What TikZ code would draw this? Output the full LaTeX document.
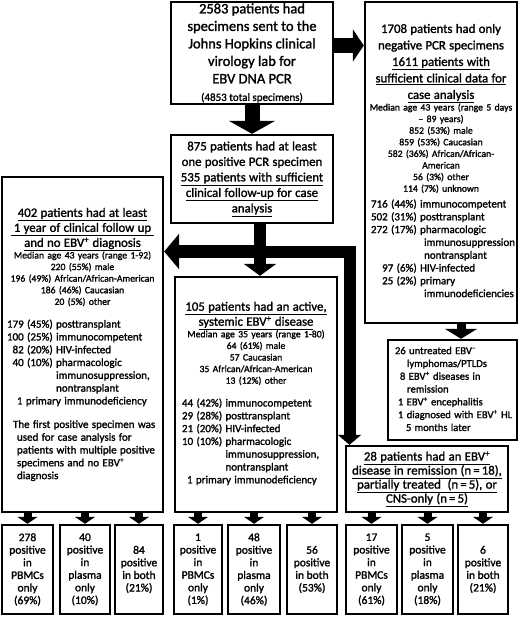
\documentclass[tikz,border=0pt]{standalone}
\usepackage{fontspec}
\setmainfont{Carlito}[FakeBold=1.5]
\usetikzlibrary{arrows.meta}
\setlength{\parindent}{0pt}
\newcommand{\topsize}{\fontsize{14.5}{17.5}\selectfont}
\newcommand{\hdsize}{\fontsize{12.8}{15}\selectfont}
\newcommand{\smsize}{\fontsize{9.7}{11.6}\selectfont}
\newcommand{\lssize}{\fontsize{11}{12.8}\selectfont}
\newcommand{\ebvp}{EBV\textsuperscript{+}}
\newcommand{\ebvm}{EBV\textsuperscript{\textendash}}
\begin{document}
\begin{tikzpicture}[x=1pt,y=-1pt]
\tikzset{
  box/.style={draw, line width=2.4pt, inner sep=0pt},
  countbox/.style={box, minimum height=89pt, align=center, font=\fontsize{11.5}{12.6}\selectfont},
  bigarrow/.style={line width=13pt, -{Triangle[length=13pt,width=34pt]}},
  smallarrow/.style={line width=8pt, -{Triangle[length=7pt,width=20pt]}}
}
\useasboundingbox (0,0) rectangle (520,617);
\node[box, minimum width=162pt, minimum height=102pt, align=center, font=\topsize] (top) at (252,53)
  {2583 patients had\\specimens sent to the\\Johns Hopkins clinical\\virology lab for\\EBV DNA PCR\\{\fontsize{11}{13}\selectfont (4853 total specimens)}};
\node[box, minimum width=152pt, minimum height=321pt, text width=152pt] (neg) at (441,162.5) {%
  \fontsize{12.8}{16.5}\selectfont\centering
  1708 patients had only\\negative PCR specimens\\\underline{1611 patients with}\\\underline{sufficient clinical data for}\\\underline{case analysis}\par
  \smsize Median age 43 years (range 5 days\\-- 89 years)\\852 (53\%) male\\859 (53\%) Caucasian\\582 (36\%) African/African-\\American\\56 (3\%) other\\114 (7\%) unknown\par
  \vspace{3pt}
  \lssize\raggedright\hspace*{6pt}\begin{tabular}[t]{@{}r@{ }l@{}}
  716 (44\%) & immunocompetent\\
  502 (31\%) & posttransplant\\
  272 (17\%) & pharmacologic\\
  & \hspace{4pt}immunosuppression\\
  & \hspace{4pt}nontransplant\\
  97 (6\%) & HIV-infected\\
  25 (2\%) & primary\\
  & \hspace{4pt}immunodeficiencies
  \end{tabular}\par};
\node[box, minimum width=162pt, minimum height=88pt, text width=162pt] (pos) at (252,179) {%
  \fontsize{12.8}{15.5}\selectfont\centering
  875 patients had at least\\one positive PCR specimen\\\underline{535 patients with sufficient}\\\underline{clinical follow-up for case}\\\underline{analysis}\par};
\node[box, minimum width=161pt, minimum height=335pt, text width=161pt] (noebv) at (82.5,344.5) {%
  \hdsize\centering
  \underline{402 patients had at least}\\\underline{\ 1 year of clinical follow up\ }\\\underline{and no \ebvp{} diagnosis}\par
  \smsize Median age 43 years (range 1-92)\\220 (55\%) male\\196 (49\%) African/African-American\\186 (46\%) Caucasian\\20 (5\%) other\par
  \vspace{10pt}
  \lssize\raggedright\hspace*{5pt}\begin{tabular}[t]{@{}r@{ }l@{}}
  179 (45\%) & posttransplant\\
  100 (25\%) & immunocompetent\\
  82 (20\%) & HIV-infected\\
  40 (10\%) & pharmacologic\\
  & immunosuppression,\\
  & nontransplant\\
  \multicolumn{2}{@{}l@{}}{\hspace{10pt}1 primary immunodeficiency}
  \end{tabular}\par
  \vspace{11pt}
  \hspace*{11pt}The first positive specimen was\\
  \hspace*{15pt}used for case analysis for\\
  \hspace*{15pt}patients with multiple positive\\
  \hspace*{15pt}specimens and no \ebvp\\
  \hspace*{15pt}diagnosis\par};
\node[box, minimum width=162pt, minimum height=235pt, text width=162pt] (act) at (256,394.5) {%
  \hdsize\centering
  \underline{105 patients had an active,}\\\underline{systemic \ebvp{} disease}\par
  \smsize Median age 35 years (range 1-80)\\64 (61\%) male\\57 Caucasian\\35 African/African-American\\13 (12\%) other\par
  \vspace{10pt}
  \lssize\raggedright\hspace*{7pt}\begin{tabular}[t]{@{}r@{ }l@{}}
  44 (42\%) & immunocompetent\\
  29 (28\%) & posttransplant\\
  21 (20\%) & HIV-infected\\
  10 (10\%) & pharmacologic\\
  & immunosuppression,\\
  & nontransplant\\
  \multicolumn{2}{@{}l@{}}{\hspace{5pt}1 primary immunodeficiency}
  \end{tabular}\par};
\node[box, minimum width=129pt, minimum height=100pt, text width=129pt] (untr) at (452.5,390) {%
  \fontsize{10.6}{12.8}\selectfont\raggedright
  \begin{tabular}{@{}l@{}}
  \hspace*{7pt}26 untreated \ebvm\\
  \hspace*{19pt}lymphomas/PTLDs\\
  \hspace*{12pt}8 \ebvp{} diseases in\\
  \hspace*{19pt}remission\\
  \hspace*{10pt}1 \ebvp{} encephalitis\\
  \hspace*{10pt}1 diagnosed with \ebvp{} HL\\
  \hspace*{18pt}5 months later
  \end{tabular}\par};
\node[box, minimum width=162pt, minimum height=66pt, text width=162pt] (rem) at (427,479) {%
  \fontsize{12.8}{14}\selectfont\centering
  \underline{28 patients had an \ebvp}\\\underline{disease in remission (n\,=\,18),}\\\underline{partially treated\ \ (n\,=\,5), or}\\\underline{CNS-only (n\,=\,5)}\par};
\node[countbox, minimum width=51pt] (b1) at (27.5,569.5) {278\\positive\\in\\PBMCs\\only\\(69\%)};
\node[countbox, minimum width=50pt] (b2) at (85,569.5) {40\\positive\\in\\plasma\\only\\(10\%)};
\node[countbox, minimum width=48pt] (b3) at (139,569.5) {84\\positive\\in both\\(21\%)};
\node[countbox, minimum width=48pt] (b4) at (198,569.5) {1\\positive\\in\\PBMCs\\only\\(1\%)};
\node[countbox, minimum width=52pt] (b5) at (254,569.5) {48\\positive\\in\\plasma\\only\\(46\%)};
\node[countbox, minimum width=50pt] (b6) at (312,569.5) {56\\positive\\in both\\(53\%)};
\node[countbox, minimum width=51pt] (b7) at (371.5,569.5) {17\\positive\\in\\PBMCs\\only\\(61\%)};
\node[countbox, minimum width=51pt] (b8) at (427.5,569.5) {5\\positive\\in\\plasma\\only\\(18\%)};
\node[countbox, minimum width=50pt] (b9) at (483,569.5) {6\\positive\\in both\\(21\%)};
\coordinate (split) at (260,251.5);
\coordinate (turn) at (349.5,251.5);
\draw[bigarrow, line width=15pt, -{Triangle[length=11pt,width=32pt]}] (top.east |- 0,45.5) -- (neg.west |- 0,45.5);
\draw[bigarrow, line width=15pt, -{Triangle[length=13pt,width=46pt]}] (top.south) -- (pos.north);
\draw[bigarrow, line width=12pt, -{Triangle[length=12pt,width=32pt]}] (split |- pos.south) -- (split |- act.north);
\draw[bigarrow, -{Triangle[length=15pt,width=35pt]}] (split) -- (split -| noebv.east);
\draw[bigarrow, line width=12pt, -{Triangle[length=10pt,width=23pt]}] (split) -- (turn) -- (turn |- rem.north);
\draw[bigarrow, line width=9pt, -{Triangle[length=10pt,width=32pt]}] (neg.south -| 461,0) -- (untr.north -| 461,0);
\draw[smallarrow] (b1.north |- noebv.south) -- (b1.north);
\draw[smallarrow] (b2.north |- noebv.south) -- (b2.north);
\draw[smallarrow] (b3.north |- noebv.south) -- (b3.north);
\draw[smallarrow] (b4.north |- act.south) -- (b4.north);
\draw[smallarrow] (b5.north |- act.south) -- (b5.north);
\draw[smallarrow] (b6.north |- act.south) -- (b6.north);
\draw[smallarrow] (b7.north |- rem.south) -- (b7.north);
\draw[smallarrow] (b8.north |- rem.south) -- (b8.north);
\draw[smallarrow] (b9.north |- rem.south) -- (b9.north);
\end{tikzpicture}
\end{document}
